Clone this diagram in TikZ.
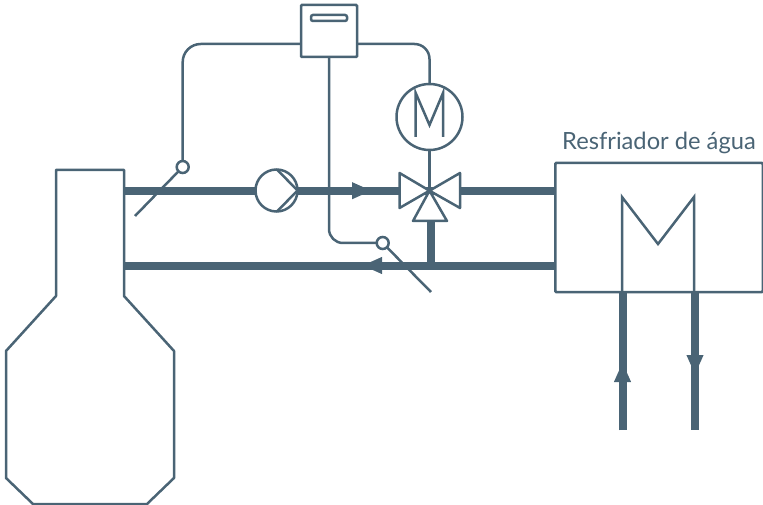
\documentclass[tikz,border=0pt]{standalone}
\usepackage{fontspec}
\setmainfont{Lato}
\usepackage{tikz}
\usetikzlibrary{arrows.meta}
\definecolor{slate}{HTML}{4A6475}

\begin{document}
\begin{tikzpicture}[x=1pt,y=-1pt]
	\tikzstyle{Line}	= [line width=2.5pt, slate]
	\tikzstyle{Pipe}	= [line width=8pt, slate]
	\tikzstyle{Head}	= [-{Triangle[length=20pt,width=15.5pt]}]
	\tikzstyle{Ring}	= [circle, draw=slate, line width=2.5pt, fill=white, inner sep=0pt, outer sep=0pt]
	\tikzstyle{Box}		= [rectangle, draw=slate, line width=2.5pt, inner sep=0pt, outer sep=0pt, rounded corners=1pt]
	\tikzstyle{Bulb}	= [Ring, minimum size=12pt]
	\useasboundingbox (0,0) rectangle (763,505);

	% points on the pipes
	\coordinate (engT) at (124,190.7);
	\coordinate (engB) at (124,265.5);
	\coordinate (arrT) at (372,190.7);
	\coordinate (arrB) at (362,265.5);
	\coordinate (cooT) at (555,190.7);
	\coordinate (cooB) at (555,265.5);
	\coordinate (tee) at (431,265.5);
	\coordinate (inA) at (622.5,292);
	\coordinate (inB) at (622.5,430);
	\coordinate (inH) at (622.5,362);
	\coordinate (outA) at (695,292);
	\coordinate (outB) at (695,430);
	\coordinate (outH) at (695,375);

	% valve
	\coordinate (vC) at (429.5,190.7);
	\coordinate (vL1) at (399.5,173);
	\coordinate (vL2) at (399.5,208);
	\coordinate (vR1) at (460,173);
	\coordinate (vR2) at (460,208);
	\coordinate (vB1) at (413,221);
	\coordinate (vB2) at (447,221);
	\coordinate (vS) at (431,221);

	% sensor tails and controller tappings
	\coordinate (t1) at (135,216);
	\coordinate (t2) at (431,292);
	\coordinate (cL) at (301,44);
	\coordinate (cR) at (357,44);
	\coordinate (cS) at (329,57);

	\draw [-] (engT) to (cooT) [Pipe];
	\draw [Head] (engT) to (arrT) [Pipe];
	\draw [-] (cooB) to (engB) [Pipe];
	\draw [Head] (cooB) to (arrB) [Pipe];
	\draw [-] (vS) to (tee) [Pipe];
	\draw [-] (inB) to (inA) [Pipe];
	\draw [Head] (inB) to (inH) [Pipe];
	\draw [-] (outA) to (outB) [Pipe];
	\draw [Head] (outA) to (outH) [Pipe];

	\node (ctrl) at (329,31) [Box, minimum width=56pt, minimum height=52pt] {};
	\node (disp) at (329,18) [Box, minimum width=36pt, minimum height=6pt, rounded corners=2pt] {};
	\node (motor) at (429.5,117) [Ring, minimum size=66pt] {};
	\node (pump) at (276.5,190.5) [Ring, minimum size=42pt] {};
	\node (s1) at (182.7,167) [Bulb] {};
	\node (s2) at (382.7,243) [Bulb] {};
	\node (cooler) at (659,227.5) [Box, minimum width=207.5pt, minimum height=129pt] {};
	\node (lbl) at (659,143) [slate, font=\fontsize{23.7}{26}\selectfont, inner sep=0pt] {Resfriador de água};

	\draw [-] (s1) to (t1) [Line];
	\draw [-] (s2) to (t2) [Line];
	\draw [rounded corners=18pt] (cL) -| (s1) [Line];
	\draw [rounded corners=15pt] (cR) -| (motor) [Line];
	\draw [rounded corners=14pt] (cS) |- (s2) [Line];
	\draw [-] (motor) to (vC) [Line];

	% valve, pump, motor and cooler symbols
	\draw [line join=round] (vC) -- (vL1) -- (vL2) -- cycle [Line, fill=white];
	\draw [line join=round] (vC) -- (vR1) -- (vR2) -- cycle [Line, fill=white];
	\draw [line join=round] (vC) -- (vB1) -- (vB2) -- cycle [Line, fill=white];
	\draw (277,169.5) -- (297.5,190.5) -- (277,211.5) [Line];
	\draw (415.7,137) -- (415.7,93) -- (429.5,125) -- (443,93) -- (443,137) [Line];
	\draw (622,292) -- (622,197) -- (658,244) -- (694,197) -- (694,292) [Line];

	% engine
	\draw [line join=round] (56,170) -- (124,170) -- (124,296) -- (174,351) -- (174,478) -- (147,504) -- (33,504) -- (6,478) -- (6,351) -- (56,296) -- cycle [Line];
\end{tikzpicture}
\end{document}
